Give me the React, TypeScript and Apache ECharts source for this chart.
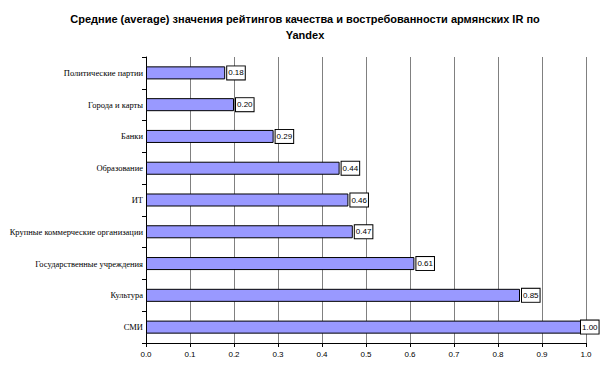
import React, { useEffect, useRef } from "react";
import * as echarts from "echarts";

const categories = [
  "Политические партии",
  "Города и карты",
  "Банки",
  "Образование",
  "ИТ",
  "Крупные коммерческие организации",
  "Государственные учреждения",
  "Культура",
  "СМИ",
];
const values = [0.18, 0.2, 0.29, 0.44, 0.46, 0.47, 0.61, 0.85, 1.0];
const xTicks = [0, 0.1, 0.2, 0.3, 0.4, 0.5, 0.6, 0.7, 0.8, 0.9, 1.0];

export default function App() {
  const ref = useRef<HTMLDivElement>(null);
  useEffect(() => {
    if (!ref.current) return;
    const chart = echarts.init(ref.current, null, { renderer: "svg" });
    const xMax = xTicks[xTicks.length - 1];
    chart.setOption({
      animation: false,
      backgroundColor: "#ffffff",
      title: {
        text: "Средние (average) значения рейтингов качества и востребованности армянских IR по\nYandex",
        left: 300,
        top: 6,
        textAlign: "center",
        textStyle: {
          fontFamily: "Liberation Sans, Arial, sans-serif",
          fontWeight: "bold",
          fontSize: 11,
          color: "#000",
          lineHeight: 16,
        },
      },
      grid: { left: 146, right: 18, top: 57, bottom: 29, containLabel: false },
      xAxis: {
        type: "value",
        min: xTicks[0],
        max: xMax,
        interval: 0.1,
        axisLine: { show: true, lineStyle: { color: "#000", width: 1 } },
        axisTick: { show: true, length: 4, lineStyle: { color: "#000" } },
        axisLabel: {
          formatter: (v: number) => v.toFixed(1),
          fontFamily: "Liberation Sans, Arial, sans-serif",
          fontSize: 8,
          color: "#000",
          margin: 7,
        },
        splitLine: { show: true, lineStyle: { color: "#808080", width: 1 } },
      },
      yAxis: {
        type: "category",
        data: categories,
        inverse: true,
        axisLine: { show: true, lineStyle: { color: "#000", width: 1 } },
        axisTick: { show: true, length: 4, lineStyle: { color: "#000" } },
        axisLabel: {
          fontFamily: "Liberation Serif, Times New Roman, serif",
          fontSize: 8.5,
          color: "#000",
          margin: 3,
        },
        splitLine: { show: false },
      },
      series: [
        {
          type: "bar",
          data: values.map((v) =>
            v >= xMax ? { value: v, label: { offset: [-7, 0] } } : v
          ),
          barCategoryGap: "59%",
          itemStyle: { color: "#9999ff", borderColor: "#000", borderWidth: 1 },
          label: {
            show: true,
            position: "right",
            distance: 2,
            formatter: (p: any) => Number(p.value).toFixed(2),
            fontFamily: "Liberation Sans, Arial, sans-serif",
            fontSize: 8,
            lineHeight: 9,
            color: "#000",
            backgroundColor: "#fff",
            borderColor: "#000",
            borderWidth: 1,
            padding: [2, 1, 2, 1],
          },
        },
      ],
    });
    return () => chart.dispose();
  }, []);
  return (
    <div
      ref={ref}
      style={{ position: "fixed", left: 0, top: 0, width: 604, height: 372, background: "#fff" }}
    />
  );
}
